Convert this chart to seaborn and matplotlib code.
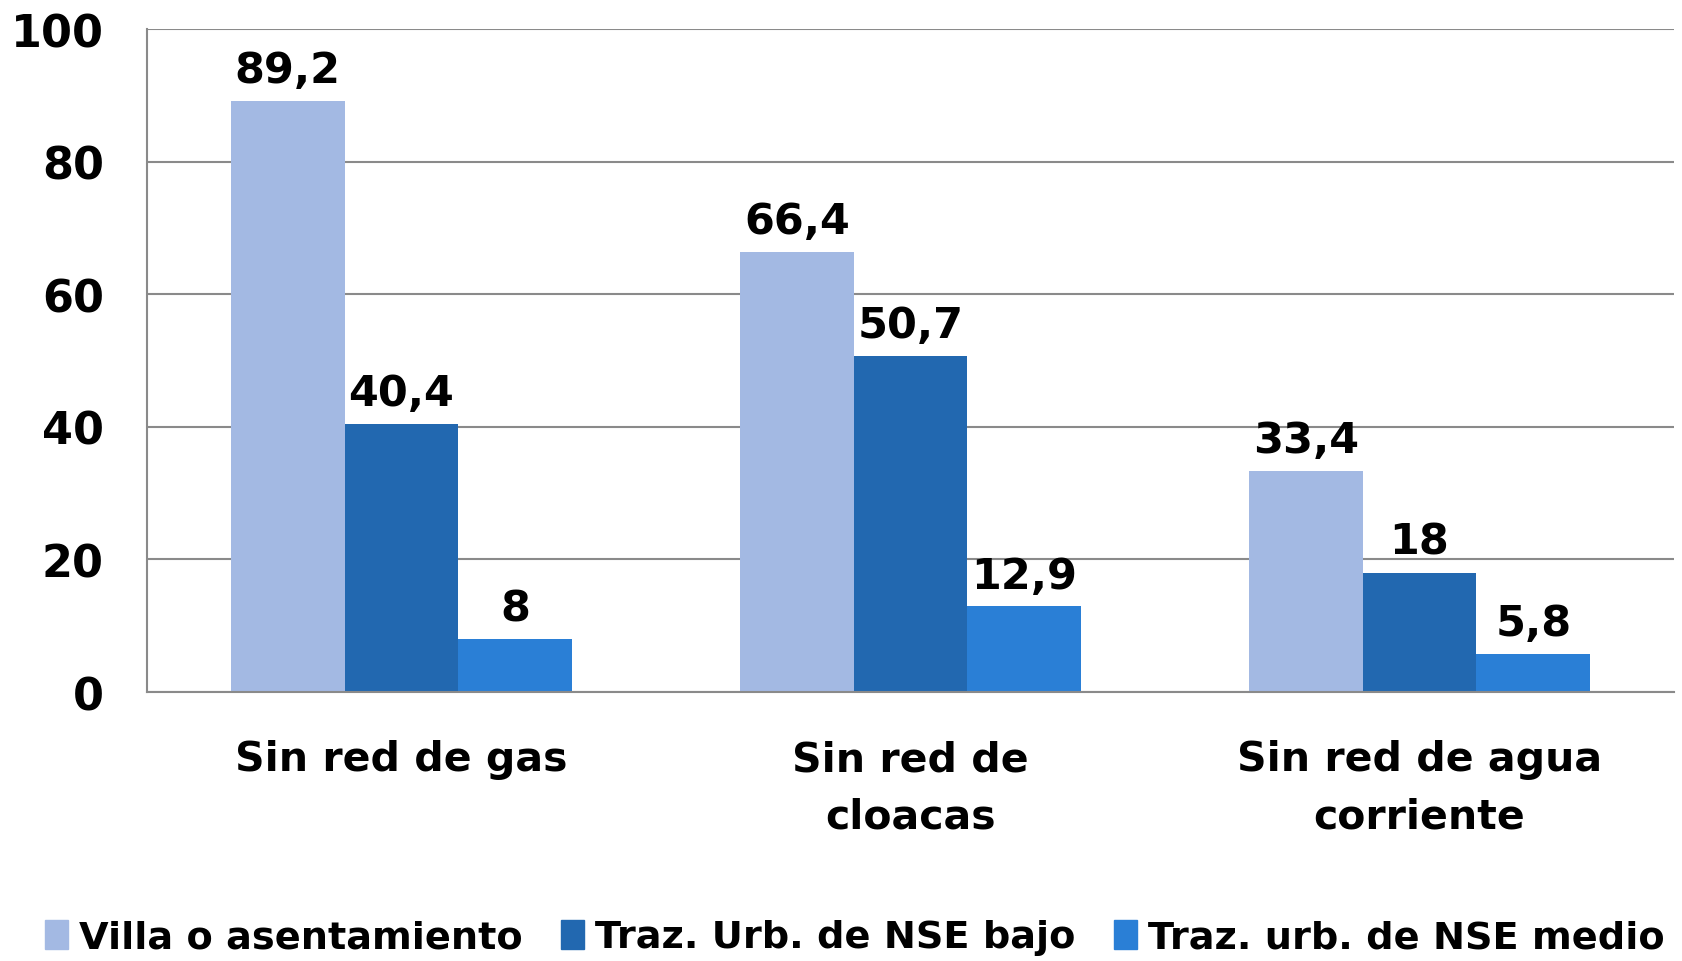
import matplotlib
matplotlib.use('Agg')
import matplotlib.pyplot as plt
import seaborn as sns
import pandas as pd

# Data
categories = ['Sin red de gas', 'Sin red de\ncloacas', 'Sin red de agua\ncorriente']
series = ['Villa o asentamiento', 'Traz. Urb. de NSE bajo', 'Traz. urb. de NSE medio']
villa = [89.2, 66.4, 33.4]
nse_bajo = [40.4, 50.7, 18]
nse_medio = [8, 12.9, 5.8]
colors = ['#A3B9E3', '#2268B0', '#2A7FD6']

df = pd.DataFrame({
    'Categoria': categories * 3,
    'Serie': [series[0]] * 3 + [series[1]] * 3 + [series[2]] * 3,
    'Valor': villa + nse_bajo + nse_medio,
})

sns.set_style('white')
plt.rcParams['font.family'] = ['DejaVu Sans']
plt.rcParams['font.weight'] = 'bold'
plt.rcParams['text.color'] = 'black'
plt.rcParams['xtick.labelcolor'] = 'black'
plt.rcParams['ytick.labelcolor'] = 'black'

fig = plt.figure(figsize=(16.83, 9.62), dpi=100)
ax = fig.add_axes([0.0873, 0.2796, 0.9074, 0.6892])

sns.barplot(data=df, x='Categoria', y='Valor', hue='Serie', palette=colors,
            width=0.67, saturation=1, linewidth=0, ax=ax, legend=True)

# value labels with decimal comma
for cont in ax.containers:
    labels = [('%g' % b.get_height()).replace('.', ',') for b in cont]
    ax.bar_label(cont, labels=labels, padding=7, fontsize=31, fontweight='bold', color='black')

ax.set_ylim(0, 100)
ax.set_xlim(-0.5, 2.5)
ax.set_yticks([0, 20, 40, 60, 80, 100])
ax.yaxis.grid(True, color='#8a8a8a', linewidth=1.5)
ax.set_axisbelow(True)
ax.set_xlabel('')
ax.set_ylabel('')

for s in ['top', 'right']:
    ax.spines[s].set_visible(False)
for s in ['left', 'bottom']:
    ax.spines[s].set_color('#8a8a8a')
    ax.spines[s].set_linewidth(1.5)

ax.tick_params(axis='y', length=9, width=1.5, color='#8a8a8a', labelsize=32,
               labelcolor='black', pad=22)
ax.tick_params(axis='x', which='major', length=0, labelsize=29.5,
               labelcolor='black', pad=34)
ax.set_xticks([-0.5, 0.5, 1.5, 2.5], minor=True)
ax.tick_params(axis='x', which='minor', length=14, width=1.5, color='#8a8a8a')
for t in ax.get_xticklabels():
    t.set_linespacing(1.55)

ax.get_legend().remove()
handles = [plt.Rectangle((0, 0), 1, 1, color=c) for c in colors]
fig.legend(handles, series, loc='lower center', bbox_to_anchor=(0.508, -0.03),
           ncol=3, frameon=False, handlelength=0.6, handleheight=0.8,
           handletextpad=0.3, columnspacing=1.0,
           prop={'size': 27.5, 'weight': 'bold'}, labelcolor='black')

plt.savefig('out.png', dpi=100)
plt.close()
